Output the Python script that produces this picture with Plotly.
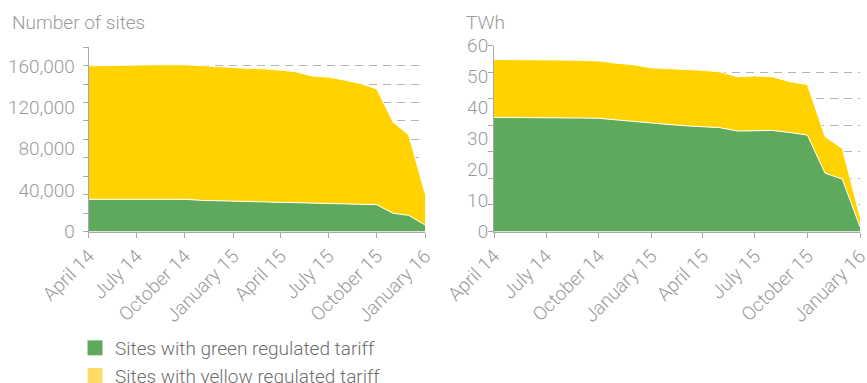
import plotly.graph_objects as go
from plotly.subplots import make_subplots

# ---- data ----
months = ["2014-04-01", "2014-05-01", "2014-06-01", "2014-07-01", "2014-08-01", "2014-09-01",
          "2014-10-01", "2014-11-01", "2014-12-01", "2015-01-01", "2015-02-01", "2015-03-01",
          "2015-04-01", "2015-05-01", "2015-06-01", "2015-07-01", "2015-08-01", "2015-09-01",
          "2015-10-01", "2015-11-01", "2015-12-01", "2016-01-01"]

tick_dates = ["2014-04-01", "2014-07-01", "2014-10-01", "2015-01-01",
              "2015-04-01", "2015-07-01", "2015-10-01", "2016-01-01"]
tick_labels = ["April 14", "July 14", "October 14", "January 15",
               "April 15", "July 15", "October 15", "January 16"]

# Number of sites
sites_green = [31100, 31100, 31100, 31100, 31100, 31100, 31100, 30100, 29700, 29200, 28700,
               28500, 28200, 27700, 27200, 27000, 26600, 26100, 25900, 17600, 15600, 6300]
sites_total = [160100, 160500, 160800, 161100, 161100, 161100, 161100, 160300, 159800, 158600,
               157600, 157200, 156000, 154300, 150200, 149200, 146300, 142900, 137900, 106000,
               93200, 36900]
sites_yellow = [t - g for t, g in zip(sites_total, sites_green)]

# TWh
twh_green = [36.8, 36.8, 36.8, 36.8, 36.7, 36.6, 36.5, 36.0, 35.5, 34.8, 34.5, 34.1, 33.8,
             33.5, 32.4, 32.6, 32.6, 31.9, 31.1, 18.8, 16.9, 1.5]
twh_total = [55.5, 55.5, 55.5, 55.5, 55.3, 55.2, 55.0, 54.3, 53.8, 52.8, 52.6, 52.3, 52.0,
             51.5, 49.9, 50.2, 49.9, 48.3, 47.4, 30.6, 26.8, 4.8]
twh_yellow = [round(t - g, 2) for t, g in zip(twh_total, twh_green)]

sites_labels_vals = [0, 40000, 80000, 120000, 160000]
sites_labels_text = ["0", "40,000", "80,000", "120,000", "160,000"]
twh_labels_vals = [0, 10, 20, 30, 40, 50, 60]
twh_labels_text = ["0", "10", "20", "30", "40", "50", "60"]

SITES_MAX = 178000
TWH_MAX = 60

names = ["Sites with green regulated tariff", "Sites with yellow regulated tariff"]

# ---- style ----
GREEN = "#5ea95b"
YELLOW = "#ffd200"
YELLOW_LEG = "#ffda66"
GREY = "#9b9b9b"
AXIS = "#a8a8a8"
FONT = "Roboto, sans-serif"

W, H = 867, 383

fig = make_subplots(rows=1, cols=2)

for col, (g, y) in enumerate([(sites_green, sites_yellow), (twh_green, twh_yellow)], start=1):
    grp = "s%d" % col
    fig.add_trace(go.Scatter(x=months, y=g, stackgroup=grp, mode="lines",
                             line=dict(color="white", width=1), fillcolor=GREEN,
                             showlegend=False, hoverinfo="skip"), row=1, col=col)
    fig.add_trace(go.Scatter(x=months, y=y, stackgroup=grp, mode="lines",
                             line=dict(color="white", width=1), fillcolor=YELLOW,
                             showlegend=False, hoverinfo="skip"), row=1, col=col)

# legend entries
for nm, c in zip(names, [GREEN, YELLOW_LEG]):
    fig.add_trace(go.Scatter(x=[None], y=[None], mode="markers", name=nm,
                             marker=dict(symbol="square", size=15, color=c)), row=1, col=1)

xcommon = dict(type="date", range=[months[0], months[-1]], tickmode="array",
               tickvals=tick_dates, ticktext=tick_labels, tickangle=-45,
               showgrid=False, showline=True, linecolor=AXIS, linewidth=1,
               ticks="outside", ticklen=5, tickcolor=AXIS, tickwidth=1,
               ticklabeloverflow="allow",
               tickfont=dict(family=FONT, size=19, color=GREY, weight=300),
               zeroline=False, automargin=False, fixedrange=True)

fig.update_xaxes(**xcommon)
fig.update_xaxes(domain=[88.7 / W, 425 / W], row=1, col=1)
fig.update_xaxes(domain=[494 / W, 860 / W], row=1, col=2)

def yaxis(rng, vals, text, nminor, standoff, top_px):
    eps = rng * 1e-6
    minor_vals = [min(max(rng * i / nminor, eps), rng - eps) for i in range(nminor + 1)]
    return dict(range=[0, rng], tickmode="array", tickvals=vals, ticktext=text,
                ticks="", showgrid=False, showline=True, linecolor=AXIS, linewidth=1,
                zeroline=False, automargin=False, fixedrange=True,
                ticklabelstandoff=standoff, ticklabeloverflow="allow",
                tickfont=dict(family=FONT, size=19, color=GREY, weight=300),
                domain=[1 - 231.5 / H, 1 - top_px / H],
                minor=dict(tickmode="array", tickvals=minor_vals, ticks="outside",
                           ticklen=5, tickcolor=AXIS, tickwidth=1, showgrid=True,
                           gridcolor="#b4b4b4", gridwidth=1, griddash="8px,6px"))

fig.update_yaxes(**yaxis(SITES_MAX, sites_labels_vals, sites_labels_text, 10, 9, 47.3), row=1, col=1)
fig.update_yaxes(**yaxis(TWH_MAX, twh_labels_vals, twh_labels_text, 7, 1, 45.5), row=1, col=2)

fig.add_annotation(text="Number of sites", xref="paper", yref="paper", x=10 / W, y=1 - 9 / H,
                   xanchor="left", yanchor="top", showarrow=False,
                   font=dict(family=FONT, size=19, color=GREY, weight=300))
fig.add_annotation(text="TWh", xref="paper", yref="paper", x=464 / W, y=1 - 9 / H,
                   xanchor="left", yanchor="top", showarrow=False,
                   font=dict(family=FONT, size=19, color=GREY, weight=300))

fig.update_layout(
    width=W, height=H, margin=dict(l=0, r=0, t=0, b=0, autoexpand=False),
    paper_bgcolor="white", plot_bgcolor="white",
    showlegend=True,
    legend=dict(x=75 / W, y=1 - 329 / H, xanchor="left", yanchor="top",
                orientation="v", bgcolor="rgba(0,0,0,0)", borderwidth=0,
                traceorder="normal",
                font=dict(family=FONT, size=19, color="#6e6e6e", weight=300),
                tracegroupgap=0, itemclick=False, itemdoubleclick=False),
)

fig.write_html("out.html")
